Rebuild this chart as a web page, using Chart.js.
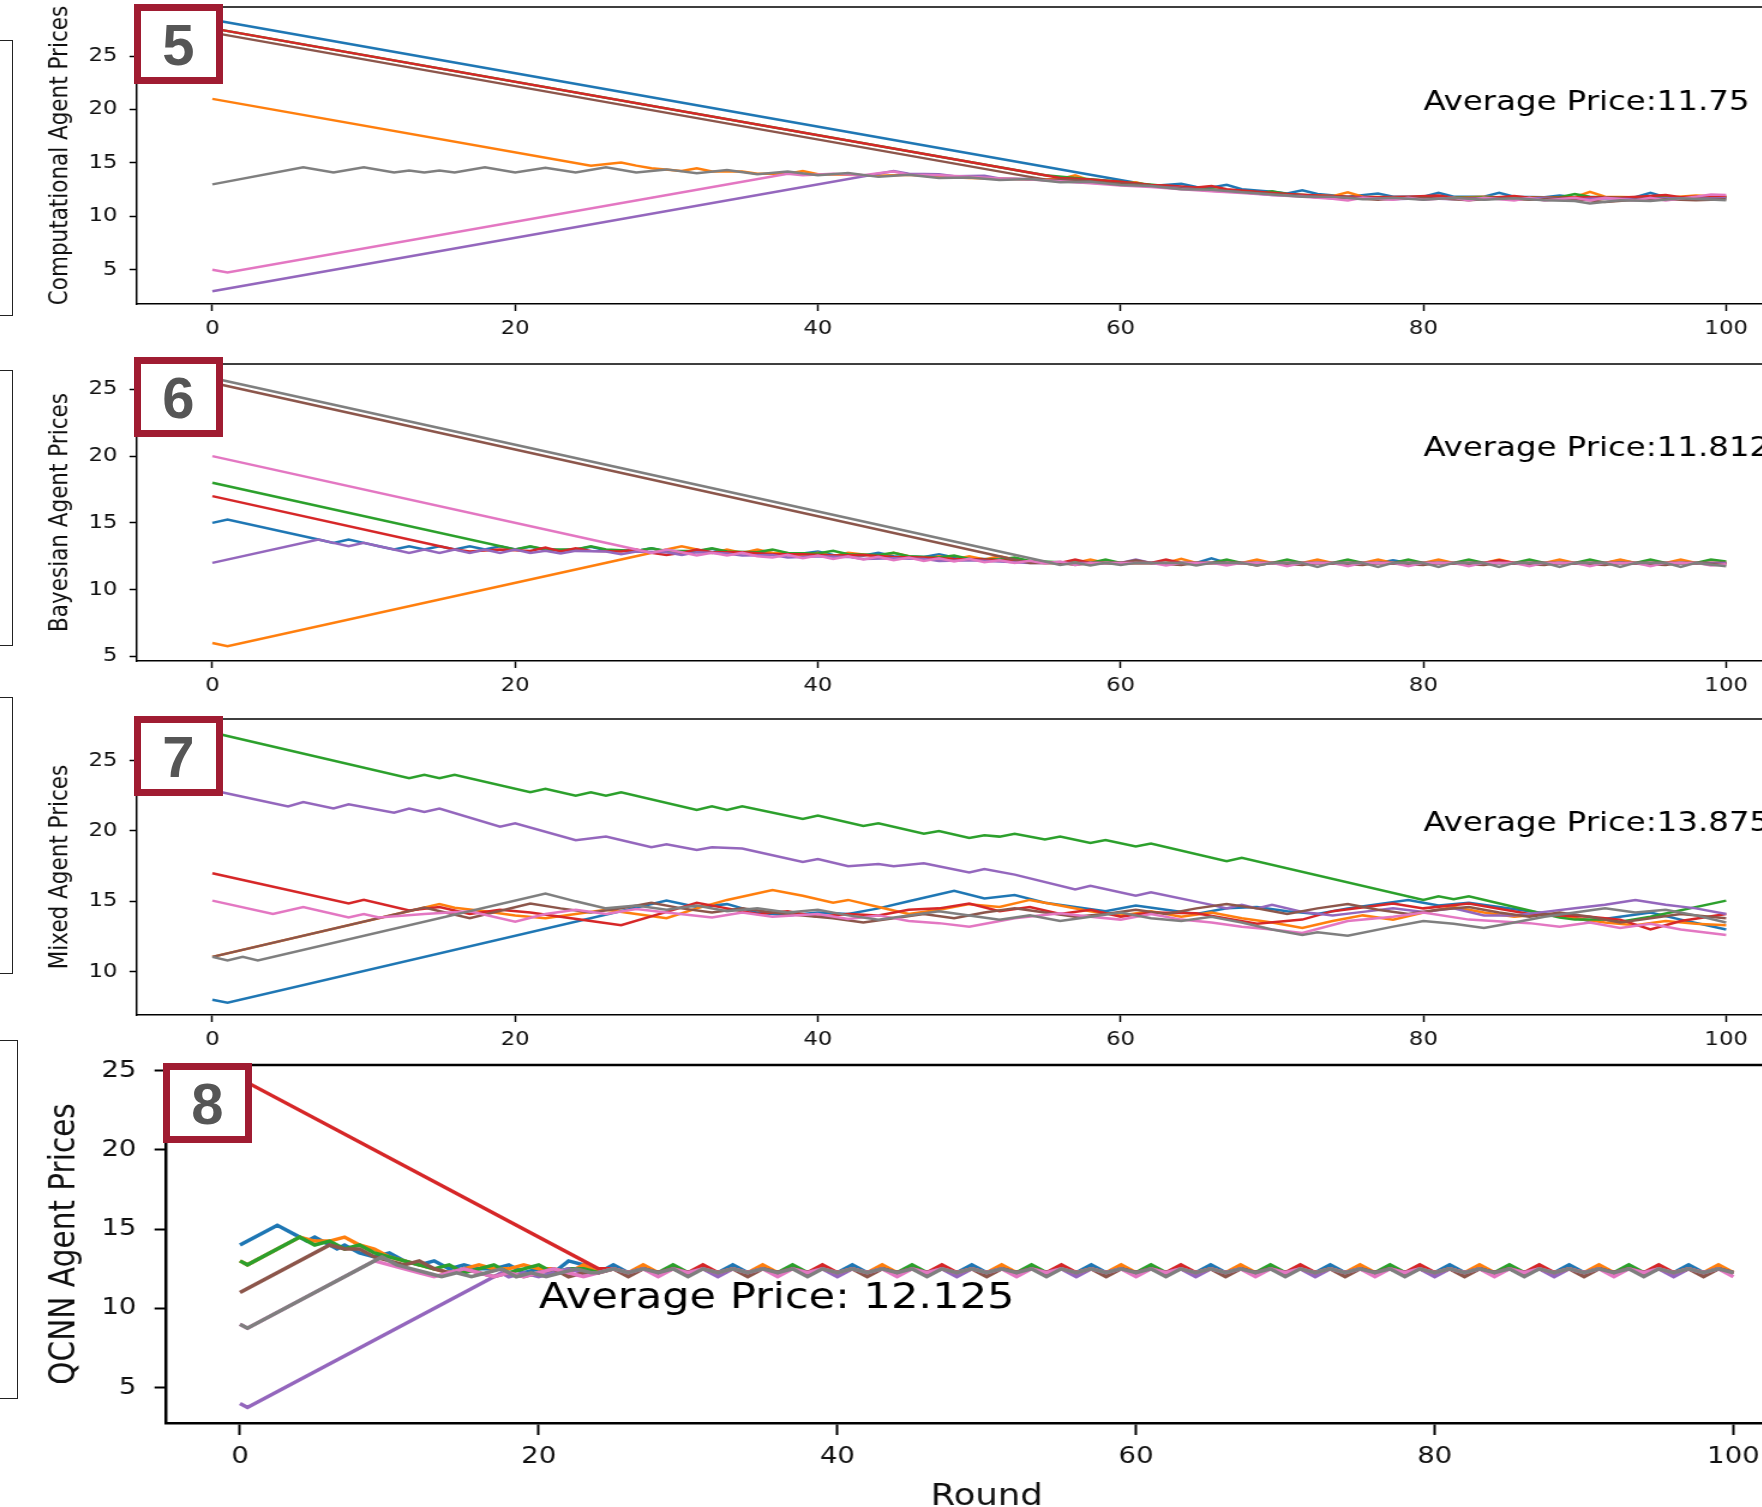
<!DOCTYPE html>
<html>
<head>
<meta charset="utf-8">
<script src="https://cdn.jsdelivr.net/npm/chart.js@4.4.1/dist/chart.umd.min.js"></script>
<style>
  html, body { margin: 0; padding: 0; background: #fff; width: 1762px; height: 1507px; overflow: hidden; position: relative; }
  canvas { position: absolute; left: 0; transform-origin: 0 0; transform: scaleX(1.2); }
  .badge { position: absolute; width: 75px; height: 66px; border: 7px solid #a01c32; background: #fff; color: #565656;
           font: bold 58px "Liberation Sans", Arial, sans-serif; display: flex; align-items: center; justify-content: center; z-index: 5; }
  .edge { position: absolute; left: -10px; width: 21px; border: 1.5px solid #222; }
</style>
</head>
<body>
<div class="edge" style="top:40px;height:274px"></div>
<div class="edge" style="top:370px;height:274px"></div>
<div class="edge" style="top:697px;height:275px"></div>
<div class="edge" style="top:1040px;height:357px;width:26px"></div>
<div class="badge" style="left:134px;top:4px">5</div>
<div class="badge" style="left:134px;top:357px">6</div>
<div class="badge" style="left:134px;top:716px">7</div>
<div class="badge" style="left:163px;top:1063px">8</div>
<script>
// x ticks (rounds) and y ticks
const roundTicks = [0, 20, 40, 60, 80, 100]
const priceTicks = [5, 10, 15, 20, 25]
const mixedTicks = [10, 15, 20, 25]
const colors = ['#1f77b4', '#ff7f0e', '#2ca02c', '#d62728', '#9467bd', '#8c564b', '#e377c2', '#7f7f7f']

// Computational agents: [round, price]
const compBlue = [[0,28.4],[61,13.15],[62,12.85],[64,13.05],[65,12.75],[66,12.7],[67,12.95],[68,12.55],[70,12.3],[71,12.15],[72,12.45],[73,12.1],[75,11.85],[77,12.15],[78,11.85],[80,11.85],[81,12.2],[82,11.85],[84,11.85],[85,12.2],[86,11.85],[88,11.8],[89,11.95],[90,11.8],[94,11.8],[95,12.2],[96,11.8],[100,11.8]]
const compOrange = [[0,21],[25,14.75],[27,15.05],[28,14.75],[29,14.5],[31,14.25],[32,14.5],[33,14.2],[35,14.2],[36,14],[38,14],[39,14.25],[40,13.95],[42,13.9],[44,13.8],[46,13.9],[48,13.7],[50,13.6],[52,13.55],[54,13.45],[56,13.5],[57,13.85],[58,13.35],[60,13.05],[61,13.2],[62,12.85],[64,12.7],[66,12.5],[68,12.3],[70,12.1],[72,12],[74,11.9],[75,12.25],[76,11.85],[78,11.8],[80,11.8],[82,11.75],[84,11.85],[86,11.75],[88,11.8],[90,11.8],[91,12.3],[92,11.85],[94,11.8],[96,11.75],[98,11.95],[100,11.85]]
const compGreen = [[0,27.6],[55,13.85],[57,13.6],[59,13.35],[61,13.1],[63,12.85],[65,12.6],[67,12.45],[69,12.15],[70,12.35],[71,12.1],[73,11.9],[75,11.8],[77,11.8],[79,11.75],[81,11.8],[83,11.75],[85,11.8],[87,11.75],[89,11.8],[90,12.1],[91,11.85],[93,11.75],[95,11.8],[97,11.75],[100,11.8]]
const compRed = [[0,27.6],[55,13.85],[56,13.6],[58,13.45],[60,13.25],[62,12.95],[63,12.9],[65,12.7],[66,12.85],[67,12.55],[69,12.3],[71,12.1],[73,11.95],[75,11.85],[77,11.8],[79,11.85],[81,11.95],[82,11.75],[84,11.7],[86,11.9],[87,11.75],[89,11.75],[91,11.8],[93,11.75],[95,11.9],[96,12],[97,11.8],[99,11.9],[100,11.85]]
const compPurple = [[0,3],[45,14.25],[46,14],[48,13.95],[49,13.75],[51,13.8],[52,13.55],[54,13.5],[56,13.3],[58,13.15],[60,13],[62,12.8],[64,12.65],[66,12.4],[68,12.25],[70,12],[72,11.9],[74,11.7],[76,11.75],[78,11.6],[80,11.7],[82,11.6],[84,11.7],[86,11.6],[88,11.75],[90,11.6],[92,11.7],[94,11.6],[96,11.7],[98,11.65],[100,11.7]]
const compBrown = [[0,27.2],[54,13.7],[55,13.45],[57,13.4],[59,13.15],[61,13],[63,12.7],[65,12.55],[67,12.35],[69,12.2],[71,12],[73,11.8],[75,11.75],[77,11.55],[79,11.75],[81,11.7],[83,11.5],[85,11.7],[87,11.55],[89,11.7],[91,11.5],[92,11.35],[94,11.55],[96,11.6],[98,11.5],[100,11.6]]
const compPink = [[0,5],[1,4.75],[38,14],[39,13.85],[41,14],[43,13.85],[44,14.05],[45,14.2],[46,13.9],[48,13.85],[50,13.7],[52,13.55],[54,13.45],[56,13.3],[58,13.1],[60,12.9],[62,12.75],[64,12.55],[66,12.35],[68,12.2],[70,12],[72,11.85],[74,11.65],[75,11.5],[76,11.75],[78,11.55],[79,11.75],[80,11.55],[82,11.75],[83,11.5],[84,11.75],[86,11.5],[87,11.75],[88,11.5],[90,11.75],[91,11.5],[92,11.75],[94,11.5],[95,11.75],[96,11.5],[98,11.85],[99,12.05],[100,12]]
const compGray = [[0,13],[6,14.6],[8,14.1],[10,14.6],[12,14.1],[13,14.3],[14,14.1],[15,14.3],[16,14.1],[18,14.6],[20,14.1],[22,14.55],[24,14.1],[26,14.6],[28,14.1],[30,14.4],[32,14.05],[34,14.35],[36,13.95],[38,14.2],[40,13.85],[42,14.05],[44,13.7],[46,13.9],[48,13.6],[50,13.65],[52,13.4],[54,13.5],[56,13.2],[58,13.25],[60,12.95],[62,12.85],[64,12.55],[66,12.5],[68,12.25],[70,12.05],[72,11.85],[74,11.85],[76,11.6],[78,11.75],[80,11.55],[82,11.75],[84,11.55],[86,11.7],[88,11.5],[90,11.45],[91,11.2],[93,11.5],[95,11.45],[97,11.7],[100,11.5]]

// Bayesian agents
const bayBlue = [[0,15],[1,15.25],[7,13.75],[8,13.5],[9,13.75],[10,13.5],[11,13.25],[12,13],[13,13.25],[14,13],[15,13.25],[16,13],[17,13.25],[18,13],[19,13.25],[20,13],[21,13.2],[22,13],[23,12.95],[24,13],[25,13.2],[26,12.95],[28,12.9],[29,13.1],[30,12.85],[32,12.85],[33,13.05],[34,12.8],[36,12.8],[37,12.75],[39,12.7],[40,12.85],[41,12.6],[43,12.55],[44,12.75],[45,12.5],[47,12.45],[48,12.65],[49,12.4],[51,12.3],[53,12.2],[55,12.05],[57,12],[65,12],[66,12.35],[67,12],[77,12],[78,12.2],[79,12],[92,12],[93,12.2],[94,12],[100,12]]
const bayOrange = [[0,6],[1,5.75],[30,13],[31,13.25],[32,13],[33,12.75],[34,13],[35,12.75],[36,13],[37,12.75],[38,12.75],[39,12.5],[40,12.75],[41,12.5],[42,12.75],[44,12.5],[45,12.75],[46,12.5],[47,12.25],[48,12.5],[49,12.25],[50,12.5],[51,12.25],[52,12.5],[53,12.25],[55,12],[57,12],[58,12.25],[59,12],[63,12],[64,12.3],[65,12],[68,12],[69,12.25],[70,12],[72,12],[73,12.25],[74,12],[76,12],[77,12.25],[78,12],[80,12],[81,12.25],[82,12],[84,12],[85,12.25],[86,12],[88,12],[89,12.25],[90,12],[92,12],[93,12.25],[94,12],[96,12],[97,12.25],[98,12],[100,12]]
const bayGreen = [[0,18],[20,13],[21,13.25],[22,13],[24,13],[25,13.25],[26,13],[28,12.9],[29,13.1],[30,12.9],[32,12.9],[33,13.1],[34,12.85],[36,12.8],[37,13],[38,12.75],[40,12.7],[41,12.9],[42,12.65],[44,12.6],[45,12.75],[46,12.5],[48,12.4],[49,12.55],[50,12.3],[52,12.25],[53,12.4],[54,12.15],[56,12.05],[58,12],[59,12.25],[60,12],[66,12],[67,12.25],[68,12],[70,12],[71,12.25],[72,12],[74,12],[75,12.25],[76,12],[78,12],[79,12.25],[80,12],[82,12],[83,12.25],[84,12],[86,12],[87,12.25],[88,12],[90,12],[91,12.25],[92,12],[94,12],[95,12.25],[96,12],[98,12],[99,12.25],[100,12.1]]
const bayRed = [[0,17],[16,13],[17,12.85],[19,13],[21,12.9],[22,13.15],[23,12.85],[24,13.1],[25,12.9],[27,12.85],[28,13],[29,12.75],[30,12.6],[31,12.75],[32,13],[33,12.8],[35,12.8],[37,12.65],[39,12.65],[41,12.55],[43,12.6],[45,12.45],[47,12.4],[49,12.3],[51,12.25],[53,12.15],[55,12.05],[56,12],[57,12.25],[58,12],[62,12],[63,12.25],[64,12],[84,12],[85,12.2],[86,12],[100,12]]
const bayPurple = [[0,12],[7,13.75],[8,13.5],[9,13.25],[10,13.5],[11,13.25],[12,13],[13,12.75],[14,13],[15,12.75],[16,13],[17,12.75],[18,13],[19,12.75],[20,13],[21,12.75],[22,12.9],[23,12.7],[24,12.9],[26,12.85],[27,12.65],[28,12.85],[30,12.8],[31,12.6],[32,12.8],[34,12.7],[35,12.55],[37,12.6],[38,12.4],[40,12.5],[42,12.45],[43,12.3],[45,12.35],[47,12.3],[48,12.15],[50,12.2],[52,12.1],[54,12],[56,12],[60,12],[61,12.25],[62,12],[100,12]]
const bayBrown = [[0,25.5],[54,12],[56,12],[57,11.85],[58,12],[60,12],[61,12.2],[62,12],[64,11.85],[65,12],[68,12],[69,11.8],[70,12],[72,11.85],[73,12],[76,11.85],[77,12],[80,11.85],[81,12],[84,11.85],[85,12],[88,11.85],[89,12],[92,11.85],[93,12],[96,11.85],[97,12],[100,11.9]]
const bayPink = [[0,20],[28,13],[29,12.75],[30,13],[31,12.8],[32,12.55],[33,12.75],[34,12.55],[35,12.75],[36,12.5],[37,12.4],[38,12.6],[39,12.35],[40,12.55],[41,12.3],[42,12.5],[43,12.25],[44,12.45],[45,12.2],[46,12.4],[47,12.15],[48,12.35],[49,12.1],[50,12.3],[51,12.05],[52,12.2],[53,12],[54,12.15],[55,11.95],[56,12.1],[57,11.85],[58,12],[62,12],[63,11.8],[64,12],[66,12],[67,11.8],[68,12],[70,12],[71,11.75],[72,12],[74,12],[75,11.75],[76,12],[78,12],[79,11.75],[80,12],[82,12],[83,11.75],[84,12],[86,12],[87,11.75],[88,12],[90,12],[91,11.75],[92,12],[94,12],[95,11.75],[96,12],[98,12],[99,11.8],[100,11.9]]
const bayGray = [[0,25.85],[55,12.1],[56,11.85],[57,12],[58,11.8],[59,12],[60,11.85],[61,12],[64,12],[65,11.8],[66,12],[68,12],[69,11.8],[70,12],[72,12],[73,11.7],[74,12],[76,12],[77,11.7],[78,12],[80,12],[81,11.7],[82,12],[84,12],[85,11.7],[86,12],[88,12],[89,11.7],[90,12],[92,12],[93,11.7],[94,12],[96,12],[97,11.7],[98,12],[100,11.75]]

// Mixed agents
const mixBlue = [[0,8],[1,7.8],[30,15.05],[32,14.6],[34,14.8],[36,14.2],[38,14],[40,14.2],[42,14.1],[44,14.5],[46,15],[49,15.75],[51,15.2],[53,15.45],[55,14.9],[57,14.6],[59,14.3],[61,14.7],[63,14.4],[65,14.1],[67,14.5],[69,14.6],[71,14.3],[73,14.1],[75,14.5],[77,14.8],[79,15.1],[81,14.7],[83,14.9],[85,14.6],[87,14.3],[89,14],[91,13.6],[93,13.9],[95,14.2],[97,13.7],[100,13]]
const mixOrange = [[0,11.05],[15,14.8],[16,14.55],[18,14.3],[20,14],[22,13.8],[24,14.1],[26,14.4],[28,14.1],[30,13.8],[32,14.5],[34,15.1],[37,15.8],[39,15.4],[41,14.9],[42,15.1],[44,14.6],[46,14.1],[48,14.4],[50,14.8],[52,14.6],[54,15.1],[56,14.7],[58,14.3],[60,14],[62,14.3],[64,13.9],[66,14.2],[68,13.8],[70,13.5],[72,13.1],[74,13.6],[76,14],[78,13.7],[80,14.2],[82,14.6],[84,14.2],[86,13.9],[88,14.1],[90,13.8],[92,13.5],[94,13.3],[96,13.6],[98,13.4],[100,13.3]]
const mixGreen = [[0,27],[13,23.75],[14,24],[15,23.75],[16,24],[21,22.75],[22,23],[24,22.5],[25,22.75],[26,22.5],[27,22.75],[32,21.5],[33,21.75],[34,21.5],[35,21.75],[39,20.85],[40,21.1],[43,20.35],[44,20.55],[47,19.8],[48,20],[50,19.5],[51,19.7],[52,19.6],[53,19.8],[55,19.4],[56,19.6],[58,19.15],[59,19.35],[61,18.9],[62,19.1],[67,17.85],[68,18.1],[80,15.1],[81,15.35],[82,15.15],[83,15.35],[87,14.35],[89,13.85],[90,13.7],[92,13.7],[93,13.55],[95,13.9],[100,15.05]]
const mixRed = [[0,17],[9,14.85],[10,15.1],[13,14.35],[15,14.6],[17,14.1],[19,14.4],[21,14.2],[23,13.9],[25,13.6],[27,13.3],[30,14.25],[32,14.9],[34,14.5],[36,14.1],[38,14.3],[40,13.9],[42,14.1],[44,14],[46,14.4],[48,14.5],[50,14.85],[52,14.3],[54,14.6],[56,14.1],[58,14.4],[60,13.9],[62,14.2],[65,14.15],[69,13.4],[72,13.7],[74,14.3],[78,14.85],[80,14.5],[83,14.85],[87,14.1],[89,14],[91,13.9],[93,13.7],[95,13],[97,13.6],[100,14.1]]
const mixPurple = [[0,22.9],[5,21.75],[6,22.05],[8,21.6],[9,21.9],[12,21.3],[13,21.6],[14,21.35],[15,21.6],[19,20.3],[20,20.55],[24,19.35],[26,19.6],[29,18.85],[30,19.05],[32,18.65],[33,18.85],[35,18.75],[39,17.8],[40,18],[42,17.5],[44,17.65],[45,17.5],[47,17.7],[50,17.05],[51,17.3],[53,16.9],[57,15.85],[58,16.1],[61,15.4],[62,15.65],[66,14.75],[67,14.5],[68,14.75],[69,14.5],[70,14.75],[72,14.25],[74,14],[76,14.25],[78,14.5],[80,14.25],[82,14.5],[84,14],[86,14],[88,14.25],[90,14.5],[92,14.75],[94,15.1],[96,14.75],[98,14.5],[100,14.1]]
const mixBrown = [[0,11.05],[14,14.55],[17,13.8],[21,14.85],[23,14.5],[25,14.2],[27,14.5],[29,14.9],[31,14.5],[33,14.2],[35,14.5],[37,14.2],[39,14],[41,13.8],[43,13.5],[45,13.8],[47,14.1],[49,13.8],[51,14.2],[53,14.5],[55,14.2],[57,13.9],[59,14.1],[61,14.4],[63,14.1],[65,14.5],[67,14.8],[69,14.5],[71,14.1],[73,14.5],[75,14.8],[77,14.4],[79,14.1],[81,14.4],[83,14.6],[85,14.2],[87,13.9],[89,14.2],[91,13.9],[93,13.5],[95,13.8],[97,14.1],[100,13.8]]
const mixPink = [[0,15.05],[4,14.1],[6,14.6],[9,13.85],[10,14.1],[11,13.85],[14,14.1],[17,14.3],[20,13.55],[22,14.1],[24,14.4],[26,14.1],[28,14.45],[30,14.2],[33,13.85],[35,14.2],[37,13.9],[40,14.1],[42,13.75],[44,14],[46,13.6],[48,13.45],[50,13.2],[53,13.8],[56,14.15],[58,13.9],[60,13.7],[62,14.1],[64,13.7],[66,13.5],[68,13.2],[70,13],[72,12.75],[75,13.6],[78,13.9],[80,14.2],[83,13.7],[87,13.45],[89,13.2],[91,13.5],[93,13.1],[95,13.4],[97,13],[100,12.6]]
const mixGray = [[0,11.05],[1,10.8],[2,11.05],[3,10.8],[22,15.55],[24,15],[26,14.5],[28,14.7],[30,14.4],[32,14.7],[34,14.3],[36,14.5],[38,14.2],[40,14.4],[42,14],[44,13.7],[46,14],[48,14.3],[50,14],[52,13.7],[54,14],[56,13.6],[58,13.9],[60,14.2],[62,13.8],[64,13.6],[66,13.9],[68,13.5],[70,13],[72,12.6],[73,12.8],[75,12.55],[78,13.2],[80,13.6],[82,13.4],[84,13.1],[86,13.5],[88,13.9],[90,14.2],[92,14.5],[94,14.2],[96,14.4],[98,14],[100,13.5]]

// QCNN agents: start [round, price] then one price per round from round 25
const qcnnTailStart = 25
const qBlue = [[0,14],[2.5,15.25],[4.5,14.25],[5,14.5],[6.5,13.75],[7,14],[8,13.5],[9,13.25],[10,13.5],[11,13],[12,12.75],[13,13],[14,12.5],[15,12.75],[16,12.5],[17,12.5],[18,12.75],[19,12.25],[20,12.5],[21,12.25],[22,13],[23,12.75],[24,12.25]]
const qOrange = [[0,13],[0.5,12.75],[4,14.5],[5,14.25],[6,14.25],[7,14.5],[8,14],[9,13.75],[10,13.25],[11,13],[12,12.75],[13,12.5],[14,12.25],[15,12.5],[16,12.75],[17,12.5],[18,12.5],[19,12.75],[20,12.5],[21,12.5],[22,12.25],[23,12.75],[24,12.25]]
const qGreen = [[0,13],[0.5,12.75],[4,14.5],[5,14],[6,14.25],[7,13.75],[8,14],[9,13.5],[10,13.25],[11,13],[12,12.75],[13,12.5],[14,12.75],[15,12.25],[16,12.5],[17,12.75],[18,12.25],[19,12.5],[20,12.75],[21,12.25],[22,12.5],[23,12.5],[24,12.25]]
const qRed = [[0,24.5],[24,12.5]]
const qPurple = [[0,4],[0.5,3.75],[17.5,12.25],[18,12],[19,12.25],[20,12],[21,12.25],[22,12.5],[23,12.25],[24,12.25]]
const qBrown = [[0,11],[6,14],[7,13.75],[8,13.75],[9,13.25],[10,13],[11,12.75],[12,13],[13,12.5],[14,12.25],[15,12.5],[16,12.25],[17,12],[18,12.25],[19,12],[20,12.25],[21,12.5],[22,12],[23,12.25],[24,12.25]]
const qPink = [[0,9],[0.5,8.75],[9,13],[10,12.75],[11,12.5],[12,12.25],[13,12],[14,12.25],[15,12.5],[16,12.25],[17,12],[18,12.25],[19,12],[20,12.25],[21,12.5],[22,12.25],[23,12],[24,12.25]]
const qGray = [[0,9],[0.5,8.75],[9.5,13.25],[10.5,12.75],[11.5,12.5],[12.5,12.25],[13.5,12],[14.5,12.25],[15.5,12],[16.5,12.25],[17.5,12.5],[18.5,12],[19.5,12.25],[20.5,12],[21.5,12.25],[22.5,12.5],[23.5,12.25],[24,12.25]]

const qBlueTail = [
  12.75,12.25,12.5,12.25,12.5,12.25,12.5,12.25, 12.75,12.25,12.5,12.25,12.5,12.25,12.5,12.25,
  12.75,12.25,12.5,12.25,12.5,12.25,12.5,12.25, 12.75,12.25,12.5,12.25,12.5,12.25,12.5,12.25,
  12.75,12.25,12.5,12.25,12.5,12.25,12.5,12.25, 12.75,12.25,12.5,12.25,12.5,12.25,12.5,12.25,
  12.75,12.25,12.5,12.25,12.5,12.25,12.5,12.25, 12.75,12.25,12.5,12.25,12.5,12.25,12.5,12.25,
  12.75,12.25,12.5,12.25,12.5,12.25,12.5,12.25, 12.75,12.25,12.5,12.25]
const qOrangeTail = [
  12.5,12.25,12.75,12.25,12.5,12.25,12.5,12.25, 12.5,12.25,12.75,12.25,12.5,12.25,12.5,12.25,
  12.5,12.25,12.75,12.25,12.5,12.25,12.5,12.25, 12.5,12.25,12.75,12.25,12.5,12.25,12.5,12.25,
  12.5,12.25,12.75,12.25,12.5,12.25,12.5,12.25, 12.5,12.25,12.75,12.25,12.5,12.25,12.5,12.25,
  12.5,12.25,12.75,12.25,12.5,12.25,12.5,12.25, 12.5,12.25,12.75,12.25,12.5,12.25,12.5,12.25,
  12.5,12.25,12.75,12.25,12.5,12.25,12.5,12.25, 12.5,12.25,12.75,12.25]
const qGreenTail = [
  12.5,12.25,12.5,12.25,12.75,12.25,12.5,12.25, 12.5,12.25,12.5,12.25,12.75,12.25,12.5,12.25,
  12.5,12.25,12.5,12.25,12.75,12.25,12.5,12.25, 12.5,12.25,12.5,12.25,12.75,12.25,12.5,12.25,
  12.5,12.25,12.5,12.25,12.75,12.25,12.5,12.25, 12.5,12.25,12.5,12.25,12.75,12.25,12.5,12.25,
  12.5,12.25,12.5,12.25,12.75,12.25,12.5,12.25, 12.5,12.25,12.5,12.25,12.75,12.25,12.5,12.25,
  12.5,12.25,12.5,12.25,12.75,12.25,12.5,12.25, 12.5,12.25,12.5,12.25]
const qRedTail = [
  12.5,12.25,12.5,12.25,12.5,12.25,12.75,12.25, 12.5,12.25,12.5,12.25,12.5,12.25,12.75,12.25,
  12.5,12.25,12.5,12.25,12.5,12.25,12.75,12.25, 12.5,12.25,12.5,12.25,12.5,12.25,12.75,12.25,
  12.5,12.25,12.5,12.25,12.5,12.25,12.75,12.25, 12.5,12.25,12.5,12.25,12.5,12.25,12.75,12.25,
  12.5,12.25,12.5,12.25,12.5,12.25,12.75,12.25, 12.5,12.25,12.5,12.25,12.5,12.25,12.75,12.25,
  12.5,12.25,12.5,12.25,12.5,12.25,12.75,12.25, 12.5,12.25,12.5,12.25]
const qPurpleTail = [
  12.5,12.25,12.5,12.25,12.5,12.25,12.5,12, 12.5,12.25,12.5,12.25,12.5,12.25,12.5,12,
  12.5,12.25,12.5,12.25,12.5,12.25,12.5,12, 12.5,12.25,12.5,12.25,12.5,12.25,12.5,12,
  12.5,12.25,12.5,12.25,12.5,12.25,12.5,12, 12.5,12.25,12.5,12.25,12.5,12.25,12.5,12,
  12.5,12.25,12.5,12.25,12.5,12.25,12.5,12, 12.5,12.25,12.5,12.25,12.5,12.25,12.5,12,
  12.5,12.25,12.5,12.25,12.5,12.25,12.5,12, 12.5,12.25,12.5,12.25]
const qBrownTail = [
  12.5,12,12.5,12.25,12.5,12.25,12.5,12.25, 12.5,12,12.5,12.25,12.5,12.25,12.5,12.25,
  12.5,12,12.5,12.25,12.5,12.25,12.5,12.25, 12.5,12,12.5,12.25,12.5,12.25,12.5,12.25,
  12.5,12,12.5,12.25,12.5,12.25,12.5,12.25, 12.5,12,12.5,12.25,12.5,12.25,12.5,12.25,
  12.5,12,12.5,12.25,12.5,12.25,12.5,12.25, 12.5,12,12.5,12.25,12.5,12.25,12.5,12.25,
  12.5,12,12.5,12.25,12.5,12.25,12.5,12.25, 12.5,12,12.5,12.25]
const qPinkTail = [
  12.5,12.25,12.5,12,12.5,12.25,12.5,12.25, 12.5,12.25,12.5,12,12.5,12.25,12.5,12.25,
  12.5,12.25,12.5,12,12.5,12.25,12.5,12.25, 12.5,12.25,12.5,12,12.5,12.25,12.5,12.25,
  12.5,12.25,12.5,12,12.5,12.25,12.5,12.25, 12.5,12.25,12.5,12,12.5,12.25,12.5,12.25,
  12.5,12.25,12.5,12,12.5,12.25,12.5,12.25, 12.5,12.25,12.5,12,12.5,12.25,12.5,12.25,
  12.5,12.25,12.5,12,12.5,12.25,12.5,12.25, 12.5,12.25,12.5,12]
const qGrayTail = [
  12.5,12.25,12.5,12.25,12.5,12,12.5,12.25, 12.5,12.25,12.5,12.25,12.5,12,12.5,12.25,
  12.5,12.25,12.5,12.25,12.5,12,12.5,12.25, 12.5,12.25,12.5,12.25,12.5,12,12.5,12.25,
  12.5,12.25,12.5,12.25,12.5,12,12.5,12.25, 12.5,12.25,12.5,12.25,12.5,12,12.5,12.25,
  12.5,12.25,12.5,12.25,12.5,12,12.5,12.25, 12.5,12.25,12.5,12.25,12.5,12,12.5,12.25,
  12.5,12.25,12.5,12.25,12.5,12,12.5,12.25, 12.5,12.25,12.5,12.25]

const avgLabels = ['Average Price:11.75', 'Average Price:11.8125', 'Average Price:13.875', 'Average Price: 12.125']

// build {x,y} points from the vertex list (+ optional per-round tail)
function toPoints(head, tail) {
  const out = head.map(([x, y]) => ({ x, y }))
  if (tail) tail.forEach((y, i) => out.push({ x: qcnnTailStart + i, y }))
  return out
}

Chart.defaults.font.family = '"DejaVu Sans", sans-serif'
Chart.defaults.color = '#000'

// top/right spine + "Average Price" text
const framePlugin = {
  id: 'frame',
  afterDatasetsDraw(chart, args, o) {
    const { ctx, chartArea: a, scales } = chart
    ctx.save()
    ctx.strokeStyle = '#000'
    ctx.lineWidth = o.spine
    ctx.beginPath()
    ctx.moveTo(a.left, a.top)
    ctx.lineTo(a.right, a.top)
    ctx.lineTo(a.right, a.bottom)
    ctx.stroke()
    ctx.fillStyle = '#000'
    ctx.font = o.size + 'px "DejaVu Sans"'
    ctx.textBaseline = 'alphabetic'
    ctx.textAlign = 'left'
    ctx.fillText(o.text, scales.x.getPixelForValue(o.at[0]), scales.y.getPixelForValue(o.at[1]))
    ctx.restore()
  }
}

function drawPanel(p) {
  const cv = document.createElement('canvas')
  cv.width = p.w
  cv.height = p.h
  cv.style.top = p.top + 'px'
  document.body.appendChild(cv)

  const big = p.big
  new Chart(cv, {
    type: 'line',
    data: {
      datasets: p.series.map((d, i) => ({
        data: d,
        borderColor: colors[i],
        borderWidth: big ? 3.5 : 2.5,
        pointRadius: 0,
        tension: 0,
        fill: false,
        order: 7 - i
      }))
    },
    options: {
      responsive: false,
      animation: false,
      events: [],
      layout: { padding: { left: 0, top: 30, right: p.padRight, bottom: 0 } },
      plugins: {
        legend: { display: false },
        tooltip: { enabled: false },
        frame: { spine: big ? 2.5 : 1.5, size: big ? 36 : 27, text: p.avg, at: p.avgAt }
      },
      scales: {
        x: {
          type: 'linear',
          min: -5,
          max: 105,
          afterBuildTicks: s => { s.ticks = roundTicks.map(v => ({ value: v })) },
          afterFit: s => { s.height = p.xh },
          grid: { drawOnChartArea: false, drawTicks: true, tickLength: big ? 12 : 7, tickWidth: big ? 2 : 1.5, tickColor: '#000' },
          border: { display: true, color: '#000', width: big ? 2.5 : 1.5 },
          ticks: { font: { size: big ? 23 : 19 }, color: '#111', padding: big ? 8 : 7, maxRotation: 0 },
          title: big ? { display: true, text: 'Round', font: { size: 29.5 }, color: '#111', padding: { top: 0, bottom: 8 } } : { display: false }
        },
        y: {
          type: 'linear',
          min: p.yMin,
          max: p.yMax,
          afterBuildTicks: s => { s.ticks = p.yTicks.map(v => ({ value: v })) },
          afterFit: s => { s.width = p.yw },
          grid: { drawOnChartArea: false, drawTicks: true, tickLength: big ? 9 : 6, tickWidth: big ? 2 : 1.5, tickColor: '#000' },
          border: { display: true, color: '#000', width: big ? 2.5 : 1.5 },
          ticks: { font: { size: big ? 23 : 19 }, color: '#111', padding: big ? 15 : 10 },
          title: {
            display: true,
            text: p.title,
            color: '#111',
            font: { size: big ? 29.5 : 21.5 },
            padding: { top: big ? 36.5 : 37.9, bottom: 0 }
          }
        }
      }
    },
    plugins: [framePlugin]
  })
}

// panel geometry in canvas px (canvas is stretched 1.2x horizontally)
drawPanel({
  top: -23.3, w: 1510, h: 377, yw: 113.9, padRight: 8.5, xh: 50,
  yMin: 1.8, yMax: 29.6, yTicks: priceTicks, title: 'Computational Agent Prices',
  avg: avgLabels[0], avgAt: [80, 20],
  series: [compBlue, compOrange, compGreen, compRed, compPurple, compBrown, compPink, compGray].map(s => toPoints(s))
})
drawPanel({
  top: 334, w: 1510, h: 377, yw: 113.9, padRight: 8.5, xh: 50,
  yMin: 4.65, yMax: 26.9, yTicks: priceTicks, title: 'Bayesian Agent Prices',
  avg: avgLabels[1], avgAt: [80, 20],
  series: [bayBlue, bayOrange, bayGreen, bayRed, bayPurple, bayBrown, bayPink, bayGray].map(s => toPoints(s))
})
drawPanel({
  top: 689, w: 1510, h: 376, yw: 113.9, padRight: 8.5, xh: 50,
  yMin: 6.92, yMax: 27.96, yTicks: mixedTicks, title: 'Mixed Agent Prices',
  avg: avgLabels[2], avgAt: [80, 20],
  series: [mixBlue, mixOrange, mixGreen, mixRed, mixPurple, mixBrown, mixPink, mixGray].map(s => toPoints(s))
})
drawPanel({
  top: 1035, w: 1517, h: 488, yw: 137.75, padRight: 10.3, xh: 100, big: true,
  yMin: 2.77, yMax: 25.36, yTicks: priceTicks, title: 'QCNN Agent Prices',
  avg: avgLabels[3], avgAt: [20, 10],
  series: [
    toPoints(qBlue, qBlueTail), toPoints(qOrange, qOrangeTail), toPoints(qGreen, qGreenTail), toPoints(qRed, qRedTail),
    toPoints(qPurple, qPurpleTail), toPoints(qBrown, qBrownTail), toPoints(qPink, qPinkTail), toPoints(qGray, qGrayTail)
  ]
})
</script>
</body>
</html>
